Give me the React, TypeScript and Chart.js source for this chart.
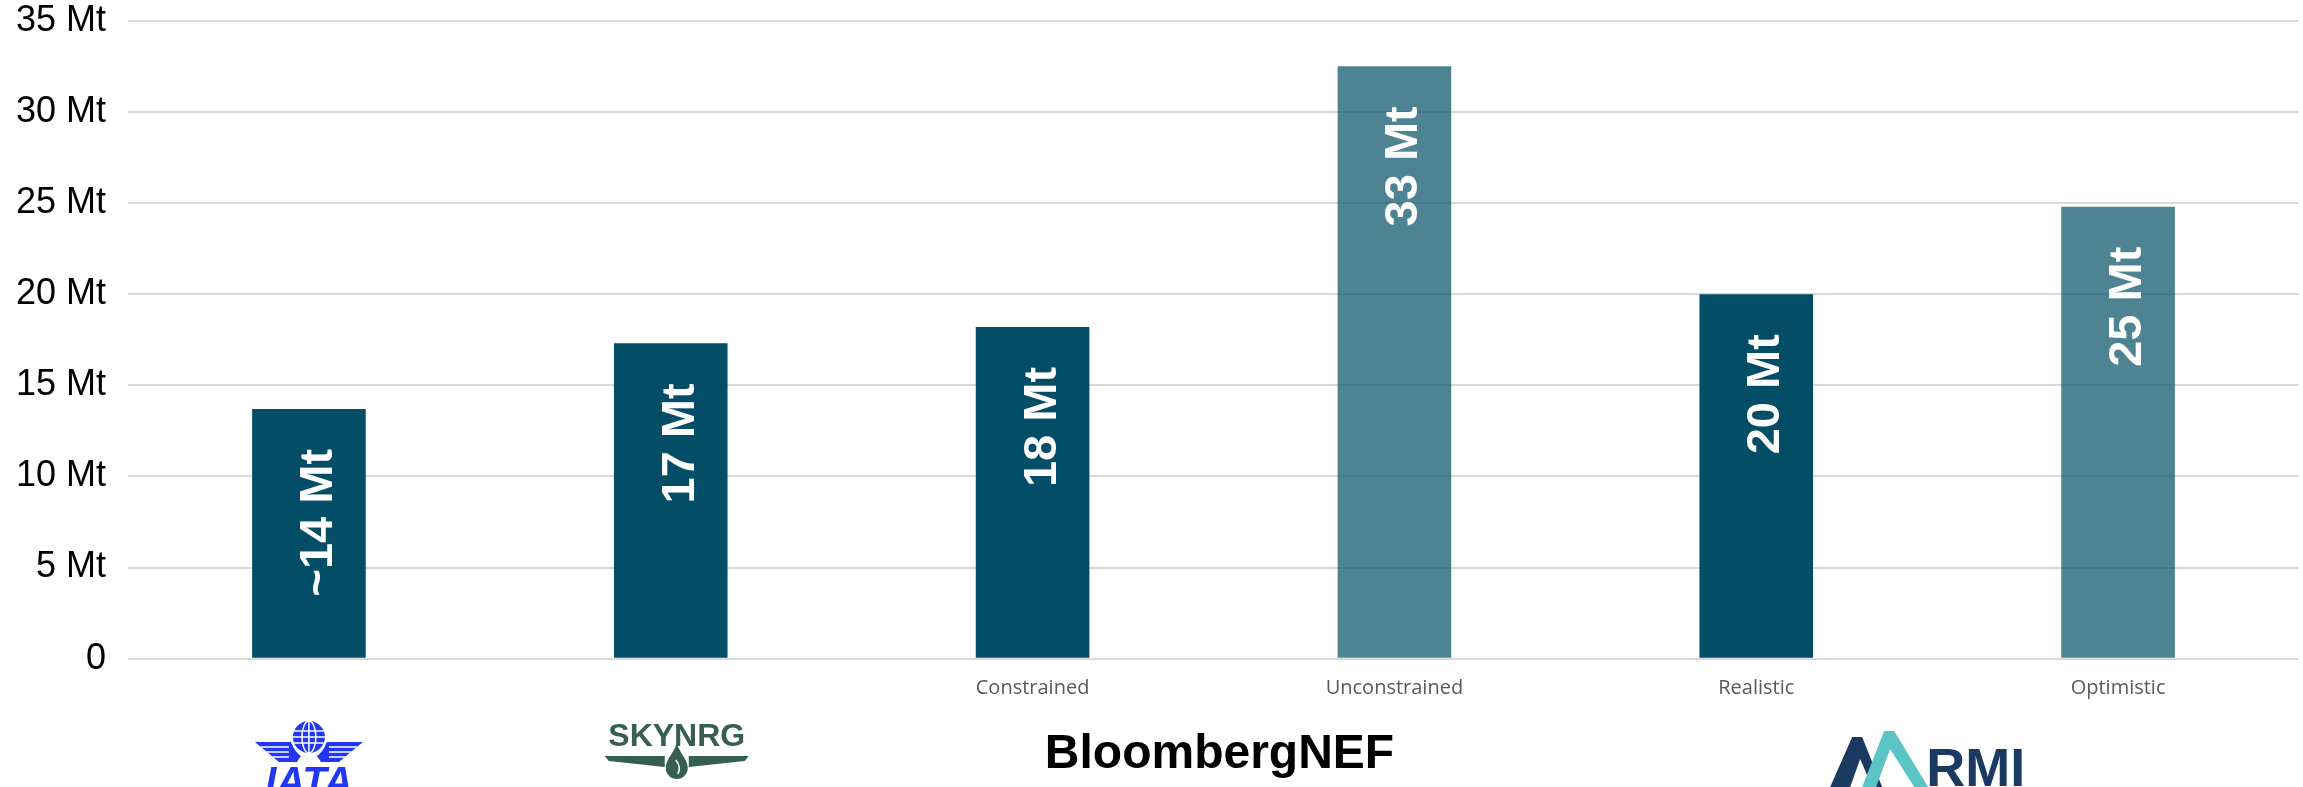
import React, { useEffect, useRef } from 'react';
import { Chart, registerables } from 'chart.js';

Chart.register(...registerables);

// ---- Data ----
const categories: string[] = ['', '', 'Constrained', 'Unconstrained', 'Realistic', 'Optimistic'];
const values: number[] = [13.7, 17.3, 18.2, 32.5, 20.0, 24.8];
const valueLabels: string[] = ['~14 Mt', '17 Mt', '18 Mt', '33 Mt', '20 Mt', '25 Mt'];
const scenarioKind: string[] = ['base', 'base', 'base', 'high', 'base', 'high'];
const sourceNames: string[] = ['IATA', 'SKYNRG', 'BloombergNEF', 'RMI'];
const yMin = 0;
const yMax = 35;
const yStep = 5;

const DARK = '#034E66';
const LIGHT = 'rgba(3,78,102,0.70)';

const W = 2303;
const H = 787;

const valueLabelPlugin = {
  id: 'valueLabels',
  afterDatasetsDraw(chart: any) {
    const ctx = chart.ctx;
    const meta = chart.getDatasetMeta(0);
    ctx.save();
    ctx.font = 'bold 47px "Liberation Sans", Arial, sans-serif';
    ctx.fillStyle = '#FFFFFF';
    ctx.textAlign = 'right';
    ctx.textBaseline = 'alphabetic';
    meta.data.forEach((el: any, i: number) => {
      ctx.save();
      ctx.translate(el.x, el.y + 40);
      ctx.rotate(-Math.PI / 2);
      ctx.fillText(valueLabels[i], 0, 23);
      ctx.restore();
    });
    ctx.restore();
  },
};

function poly(ctx: CanvasRenderingContext2D, pts: number[][], ox: number, oy: number, color: string) {
  ctx.beginPath();
  pts.forEach((p, i) => {
    if (i === 0) ctx.moveTo(ox + p[0], oy + p[1]);
    else ctx.lineTo(ox + p[0], oy + p[1]);
  });
  ctx.closePath();
  ctx.fillStyle = color;
  ctx.fill();
}

const logoPlugin = {
  id: 'logos',
  afterDraw(chart: any) {
    const ctx: CanvasRenderingContext2D = chart.ctx;
    const xs = chart.scales.x;
    const c0 = xs.getPixelForValue(0);
    const c1 = xs.getPixelForValue(1) + 6;
    const cB = (xs.getPixelForValue(2) + xs.getPixelForValue(3)) / 2 + 6;
    const cR = (xs.getPixelForValue(4) + xs.getPixelForValue(5)) / 2 - 12;
    ctx.save();

    // IATA
    const blue = '#2237F6';
    ctx.fillStyle = blue;
    ctx.beginPath();
    ctx.arc(c0, 737, 16, 0, Math.PI * 2);
    ctx.fill();
    ctx.strokeStyle = '#FFFFFF';
    ctx.lineWidth = 1.5;
    ctx.beginPath();
    ctx.ellipse(c0, 737, 7, 16, 0, 0, Math.PI * 2);
    ctx.moveTo(c0, 721);
    ctx.lineTo(c0, 753);
    ctx.moveTo(c0 - 15, 731);
    ctx.lineTo(c0 + 15, 731);
    ctx.moveTo(c0 - 16, 737);
    ctx.lineTo(c0 + 16, 737);
    ctx.moveTo(c0 - 15, 743);
    ctx.lineTo(c0 + 15, 743);
    ctx.stroke();
    // wings
    [-1, 1].forEach((s) => {
      ctx.beginPath();
      ctx.moveTo(c0 + s * 54, 742);
      ctx.lineTo(c0 + s * 18, 742);
      ctx.quadraticCurveTo(c0 + s * 14, 752, c0 + s * 8, 756);
      ctx.lineTo(c0 + s * 12, 762);
      ctx.lineTo(c0 + s * 30, 762);
      ctx.closePath();
      ctx.fillStyle = blue;
      ctx.fill();
      ctx.strokeStyle = '#FFFFFF';
      ctx.lineWidth = 1.5;
      ctx.beginPath();
      ctx.moveTo(c0 + s * 48, 747);
      ctx.lineTo(c0 + s * 20, 747);
      ctx.moveTo(c0 + s * 43, 752);
      ctx.lineTo(c0 + s * 20, 752);
      ctx.moveTo(c0 + s * 37, 757);
      ctx.lineTo(c0 + s * 20, 757);
      ctx.stroke();
    });
    ctx.fillStyle = blue;
    ctx.font = 'italic bold 40px "Liberation Sans", Arial, sans-serif';
    ctx.textAlign = 'center';
    ctx.textBaseline = 'alphabetic';
    ctx.fillText(sourceNames[0], c0, 795);

    // SKYNRG
    const green = '#375E52';
    ctx.fillStyle = green;
    ctx.font = 'bold 32px "Liberation Sans", Arial, sans-serif';
    ctx.fillText(sourceNames[1], c1, 746);
    poly(ctx, [[-72, 0], [-12, 0], [-12, 11], [-68, 5]], c1, 756, green);
    poly(ctx, [[72, 0], [12, 0], [12, 11], [68, 5]], c1, 756, green);
    ctx.beginPath();
    ctx.moveTo(c1, 744);
    ctx.bezierCurveTo(c1 + 4, 754, c1 + 11, 760, c1 + 11, 768);
    ctx.arc(c1, 768, 11, 0, Math.PI);
    ctx.bezierCurveTo(c1 - 11, 760, c1 - 4, 754, c1, 744);
    ctx.fillStyle = green;
    ctx.fill();
    ctx.strokeStyle = '#FFFFFF';
    ctx.lineWidth = 1.5;
    ctx.beginPath();
    ctx.moveTo(c1 - 1, 760);
    ctx.quadraticCurveTo(c1 + 5, 767, c1 + 1, 774);
    ctx.stroke();

    // BloombergNEF
    ctx.fillStyle = '#000000';
    ctx.font = 'bold 48px "Liberation Sans", Arial, sans-serif';
    ctx.textAlign = 'center';
    ctx.fillText(sourceNames[2], cB, 768);

    // RMI
    const navy = '#1B3A62';
    const teal = '#5BC5C5';
    const x0 = cR - 95;
    poly(ctx, [[0, 50], [22, 0], [32, 0], [52, 50], [42, 50], [30, 22], [20, 50], [10, 50]], x0, 737, navy);
    poly(ctx, [[32, 50], [54, -6], [64, -6], [98, 50], [84, 50], [60, 12], [46, 50]], x0, 737, teal);
    ctx.fillStyle = navy;
    ctx.font = 'bold 54px "Liberation Sans", Arial, sans-serif';
    ctx.textAlign = 'left';
    ctx.fillText(sourceNames[3], x0 + 96, 786);

    ctx.restore();
  },
};

export default function App() {
  const canvasRef = useRef<HTMLCanvasElement | null>(null);

  useEffect(() => {
    document.body.style.margin = '0';
    document.body.style.overflow = 'hidden';
    const canvas = canvasRef.current;
    if (!canvas) return;
    const chart = new Chart(canvas, {
      type: 'bar',
      data: {
        labels: categories,
        datasets: [
          {
            data: values,
            backgroundColor: scenarioKind.map((k) => (k === 'high' ? LIGHT : DARK)),
            borderWidth: 0,
            barPercentage: 0.314,
            categoryPercentage: 1,
          },
        ],
      },
      options: {
        responsive: false,
        animation: false,
        devicePixelRatio: 1,
        layout: { padding: { top: 0, right: 4, left: 0, bottom: 0 } },
        plugins: {
          legend: { display: false },
          tooltip: { enabled: false },
        },
        scales: {
          x: {
            grid: { display: false, drawTicks: false },
            border: { display: false },
            ticks: {
              color: '#595959',
              font: { family: '"Open Sans", sans-serif', size: 20 },
              padding: 18,
              maxRotation: 0,
              autoSkip: false,
            },
            afterFit: (scale: any) => {
              scale.height = 128.3;
            },
          },
          y: {
            min: yMin,
            max: yMax,
            grid: {
              color: '#D9D9D9',
              lineWidth: 2,
              drawTicks: true,
              tickLength: 22,
              tickColor: 'rgba(0,0,0,0)',
            },
            border: { display: false },
            ticks: {
              stepSize: yStep,
              padding: 0,
              color: '#000000',
              font: { family: '"Liberation Sans", Arial, sans-serif', size: 36, lineHeight: 1.15 },
              callback: (v: any) => (Number(v) === 0 ? '0' : `${v} Mt`),
            },
            afterFit: (scale: any) => {
              scale.width = 128;
            },
          },
        },
      },
      plugins: [valueLabelPlugin, logoPlugin],
    });
    return () => chart.destroy();
  }, []);

  return (
    <div style={{ width: W, height: H, background: '#FFFFFF' }}>
      <canvas ref={canvasRef} width={W} height={H} style={{ display: 'block', width: W, height: H }} />
    </div>
  );
}
